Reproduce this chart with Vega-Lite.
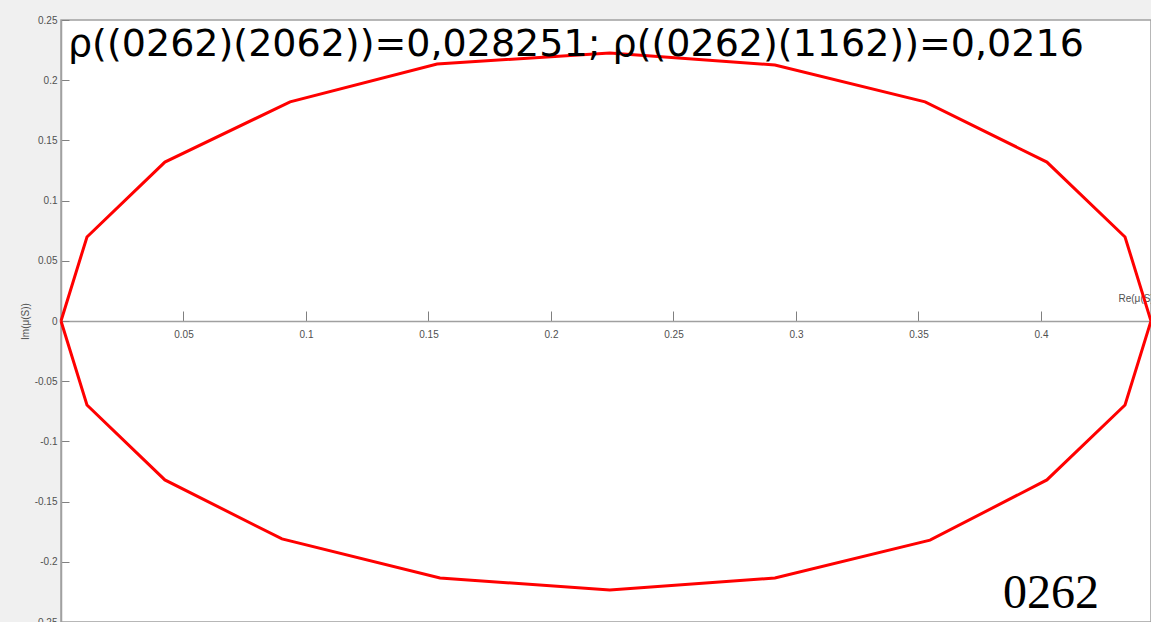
{
  "$schema": "https://vega.github.io/schema/vega-lite/v6.json",
  "width": 1090,
  "height": 602,
  "autosize": {"type": "none"},
  "padding": {"left": 61, "top": 20, "right": 0, "bottom": 0},
  "background": "#f0f0f0",
  "title": {
    "text": "ρ((0262)(2062))=0,028251; ρ((0262)(1162))=0,0216",
    "anchor": "start",
    "frame": "group",
    "orient": "top",
    "offset": -79,
    "baseline": "alphabetic",
    "dx": 7,
    "fontSize": 38,
    "font": "DejaVu Sans",
    "fontWeight": "normal",
    "color": "#000000"
  },
  "config": {
    "view": {"fill": "white", "stroke": "#a0a0a0", "strokeWidth": 1.5},
    "axis": {
      "labelFont": "Liberation Sans",
      "labelFontSize": 10,
      "labelColor": "#505050",
      "titleFont": "Liberation Sans",
      "titleFontSize": 10,
      "titleFontWeight": "normal",
      "titleColor": "#505050",
      "domainColor": "#a0a0a0",
      "domainWidth": 1.5,
      "tickColor": "#808080",
      "tickWidth": 1,
      "grid": false,
      "labelFlush": false,
      "labelOverlap": false
    }
  },
  "data": {
    "values": [
      {"i": 0, "re": 0.0, "im": 0.0},
      {"i": 1, "re": 0.0106, "im": 0.0698},
      {"i": 2, "re": 0.0424, "im": 0.132},
      {"i": 3, "re": 0.0935, "im": 0.182},
      {"i": 4, "re": 0.1535, "im": 0.2135},
      {"i": 5, "re": 0.224, "im": 0.2226},
      {"i": 6, "re": 0.2914, "im": 0.2126},
      {"i": 7, "re": 0.3527, "im": 0.182},
      {"i": 8, "re": 0.4024, "im": 0.132},
      {"i": 9, "re": 0.4343, "im": 0.0698},
      {"i": 10, "re": 0.4449, "im": 0.0},
      {"i": 11, "re": 0.4343, "im": -0.0698},
      {"i": 12, "re": 0.4024, "im": -0.132},
      {"i": 13, "re": 0.3547, "im": -0.182},
      {"i": 14, "re": 0.2914, "im": -0.2135},
      {"i": 15, "re": 0.224, "im": -0.2234},
      {"i": 16, "re": 0.1547, "im": -0.2135},
      {"i": 17, "re": 0.0902, "im": -0.181},
      {"i": 18, "re": 0.0424, "im": -0.132},
      {"i": 19, "re": 0.0106, "im": -0.0698},
      {"i": 20, "re": 0.0, "im": 0.0}
    ]
  },
  "layer": [
    {
      "mark": {"type": "line", "color": "#ff0000", "strokeWidth": 3, "clip": false},
      "encoding": {
        "x": {
          "field": "re",
          "type": "quantitative",
          "scale": {"domain": [0, 0.4449], "nice": false, "zero": false},
          "axis": {
            "orient": "bottom",
            "offset": -301,
            "tickSize": -10,
            "labelPadding": 18,
            "values": [0.05, 0.1, 0.15, 0.2, 0.25, 0.3, 0.35, 0.4],
            "labelExpr": "'' + datum.value",
            "title": "Re(μ(S))",
            "titleX": 1057,
            "titleY": -23,
            "titleAlign": "left",
            "titleBaseline": "middle",
            "titleAngle": 0
          }
        },
        "y": {
          "field": "im",
          "type": "quantitative",
          "scale": {"domain": [-0.25, 0.25], "nice": false},
          "axis": {
            "orient": "left",
            "tickSize": -8,
            "labelPadding": 12,
            "values": [-0.25, -0.2, -0.15, -0.1, -0.05, 0, 0.05, 0.1, 0.15, 0.2, 0.25],
            "labelExpr": "'' + datum.value",
            "title": "Im(μ(S))",
            "titleX": -36,
            "titleY": 301,
            "titleAngle": -90,
            "titleAlign": "center",
            "titleBaseline": "middle"
          }
        },
        "order": {"field": "i", "type": "quantitative"}
      }
    },
    {
      "data": {"values": [{"label": "0262"}]},
      "mark": {"type": "text", "font": "Liberation Serif", "fontSize": 48, "align": "right", "baseline": "alphabetic", "color": "#000000"},
      "encoding": {
        "x": {"datum": 0.4237, "type": "quantitative"},
        "y": {"datum": -0.2384, "type": "quantitative"},
        "text": {"field": "label", "type": "nominal"}
      }
    }
  ]
}
